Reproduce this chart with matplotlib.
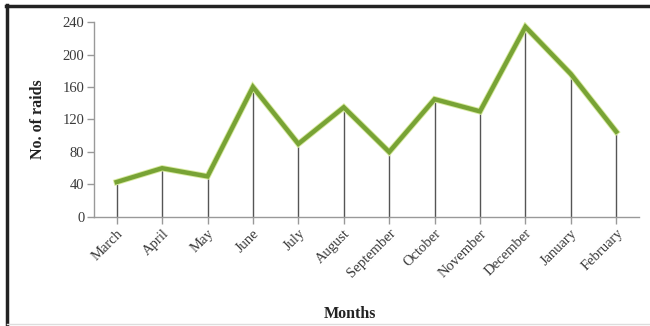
import matplotlib
matplotlib.use('Agg')
import matplotlib.pyplot as plt
from matplotlib.lines import Line2D
import matplotlib.patheffects as pe

months = ['March', 'April', 'May', 'June', 'July', 'August', 'September',
          'October', 'November', 'December', 'January', 'February']
raids = [43, 60, 50, 160, 90, 135, 80, 145, 130, 234, 176, 105]

plt.rcParams['font.family'] = 'Liberation Serif'

fig = plt.figure(figsize=(6.5, 3.26), dpi=100)
ax = fig.add_axes([0.1446, 0.3344, 0.8384, 0.5981])

x = list(range(len(months)))
ax.vlines(x, 0, raids, color='#555555', linewidth=1.0, zorder=2)
ax.plot(x, raids, color='#78a335', linewidth=3.2, zorder=3, solid_joinstyle='miter',
        path_effects=[pe.Stroke(linewidth=4.5, foreground='#d8eaa0'), pe.Normal()])

ax.set_xlim(-0.5, 11.5)
ax.set_ylim(0, 240)
ax.set_yticks(range(0, 241, 40))
ax.set_xticks(x)
ax.set_xticklabels(months, rotation=45, ha='right', rotation_mode='anchor')

for s in ['top', 'right']:
    ax.spines[s].set_visible(False)
for s in ['left', 'bottom']:
    ax.spines[s].set_color('#999999')
    ax.spines[s].set_linewidth(1.0)
ax.tick_params(axis='both', colors='#999999', labelcolor='#3a3a3a', labelsize=10.5,
               length=5, width=1.0, pad=2)

ax.set_ylabel('No. of raids', fontsize=11.5, fontweight='bold', color='#222222')
ax.yaxis.set_label_coords(-0.088, 0.5)
ax.set_xlabel('Months', fontsize=11.5, fontweight='bold', color='#222222')
ax.xaxis.set_label_coords(0.47, -0.455)

# frame around the image: dark top/left, light bottom
fig.add_artist(Line2D([0.009, 1.0], [0.982, 0.982], transform=fig.transFigure,
                      color='#222222', linewidth=2.5))
fig.add_artist(Line2D([0.011, 0.011], [0.0, 0.985], transform=fig.transFigure,
                      color='#222222', linewidth=2.5))
fig.add_artist(Line2D([0.011, 1.0], [0.006, 0.006], transform=fig.transFigure,
                      color='#dddddd', linewidth=1.0))

fig.savefig('out.png', dpi=100)
